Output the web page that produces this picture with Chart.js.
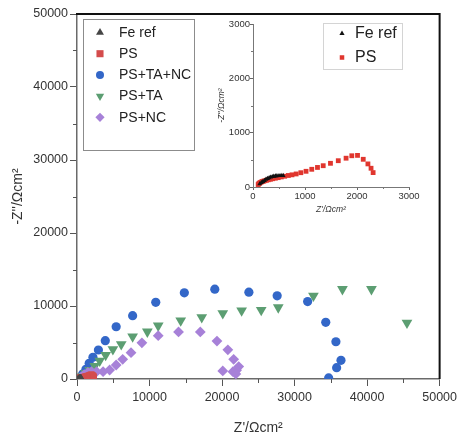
<!DOCTYPE html>
<html>
<head>
<meta charset="utf-8">
<script src="https://cdn.jsdelivr.net/npm/chart.js@4/dist/chart.umd.min.js"></script>
<style>
  html, body { margin: 0; padding: 0; background: #ffffff; }
  #wrap { position: relative; width: 461px; height: 439px; }
  #main { position: absolute; left: 0; top: 0; width: 461px; height: 439px; }
  #inset { position: absolute; left: 200px; top: 14px; width: 245px; height: 216px; }
</style>
</head>
<body>
<div id="wrap">
  <canvas id="main" width="461" height="439"></canvas>
  <canvas id="inset" width="245" height="216"></canvas>
</div>
<script>
// Nyquist plots, impedance in Ω·cm² (Z' real part, -Z'' imaginary part)

// Fe ref
const feRefX = [130, 160, 190, 220, 250, 280, 310, 340, 370, 400, 430, 460, 500, 540, 580];
const feRefY = [60, 80, 100, 120, 140, 155, 170, 180, 190, 195, 200, 205, 208, 210, 210];

// PS
const psX = [100, 110, 125, 140, 160, 180, 205, 230, 260, 295, 335, 380, 430, 485, 545, 610, 680, 750, 830, 920, 1020, 1130, 1240, 1350, 1490, 1640, 1790, 1900, 2010, 2120, 2210, 2270, 2310];
const psY = [45, 60, 72, 82, 92, 100, 108, 116, 124, 133, 142, 152, 162, 172, 185, 198, 212, 224, 240, 263, 289, 326, 360, 392, 436, 484, 530, 575, 582, 510, 425, 345, 265];

// PS+TA+NC
const tanX = [400, 780, 1230, 1680, 2200, 2950, 3900, 5400, 7670, 10860, 14800, 19000, 23700, 27600, 31800, 34300, 35700, 36400, 35800, 34700];
const tanY = [200, 680, 1330, 2150, 2970, 3970, 5250, 7160, 8670, 10500, 11800, 12300, 11900, 11400, 10600, 7770, 5100, 2560, 1550, 150];

// PS+TA
const taX = [400, 800, 1200, 1770, 2450, 3130, 3950, 4950, 6100, 7670, 9700, 11200, 14300, 17200, 20100, 22700, 25400, 27750, 32600, 36600, 40600, 45500];
const taY = [200, 400, 800, 1230, 1780, 2500, 3290, 4070, 4750, 5800, 6480, 7300, 8000, 8450, 9000, 9360, 9450, 9800, 11400, 12300, 12300, 7700];

// PS+NC
const ncX = [600, 1000, 1500, 2000, 2700, 3600, 4500, 5400, 6300, 7450, 8950, 11200, 14000, 17000, 19300, 20800, 21600, 22300, 22000, 21500, 21900, 20100];
const ncY = [300, 600, 900, 1000, 1000, 1000, 1230, 1920, 2700, 3600, 4950, 5930, 6450, 6450, 5200, 4000, 2700, 1700, 1200, 1000, 700, 1100];

// Axis ticks
const mainTicks = [0, 10000, 20000, 30000, 40000, 50000];
const insetTicks = [0, 1000, 2000, 3000];

const FONT = '"Liberation Sans", Arial, Helvetica, sans-serif';
Chart.defaults.font.family = FONT;

function pts(xs, ys) { return xs.map((x, i) => ({ x: x, y: ys[i] })); }

function drawMarker(ctx, style, x, y, r, color, rotation) {
  ctx.save();
  ctx.fillStyle = color;
  ctx.beginPath();
  if (style === 'circle') {
    ctx.arc(x, y, r, 0, Math.PI * 2);
  } else if (style === 'triangle') {
    const s = rotation === 180 ? -1 : 1;
    ctx.moveTo(x, y - s * r);
    ctx.lineTo(x + 0.866 * r, y + s * 0.5 * r);
    ctx.lineTo(x - 0.866 * r, y + s * 0.5 * r);
    ctx.closePath();
  } else if (style === 'rect') {
    const h = Math.SQRT1_2 * r;
    ctx.rect(x - h, y - h, 2 * h, 2 * h);
  } else if (style === 'rectRot') {
    ctx.moveTo(x, y - r); ctx.lineTo(x + r, y); ctx.lineTo(x, y + r); ctx.lineTo(x - r, y);
    ctx.closePath();
  }
  ctx.fill();
  ctx.restore();
}

// Boxed legend drawn inside the plot
const boxLegend = {
  id: 'boxLegend',
  afterDraw(chart, args, o) {
    const ctx = chart.ctx;
    ctx.save();
    ctx.strokeStyle = o.border;
    ctx.lineWidth = 1;
    ctx.strokeRect(o.x + 0.5, o.y + 0.5, o.w, o.h);
    ctx.font = o.font;
    ctx.textBaseline = 'middle';
    ctx.textAlign = 'left';
    o.items.forEach((it, i) => {
      const cy = o.firstY + i * o.gap;
      drawMarker(ctx, it.pointStyle, o.markerX, cy, o.radius[i], it.color, it.rotation);
      ctx.fillStyle = o.textColor;
      ctx.fillText(it.label, o.textX, cy + 0.5);
    });
    ctx.restore();
  }
};

// Minor ticks halfway between the labelled ones
const minorTicks = {
  id: 'minorTicks',
  afterDraw(chart, args, o) {
    const ctx = chart.ctx;
    const xs = chart.scales.x, ys = chart.scales.y;
    ctx.save();
    ctx.strokeStyle = o.color;
    ctx.lineWidth = 1;
    for (let i = 0; i < o.ticks.length - 1; i++) {
      const v = (o.ticks[i] + o.ticks[i + 1]) / 2;
      const px = Math.round(xs.getPixelForValue(v)) + 0.5;
      ctx.beginPath(); ctx.moveTo(px, ys.bottom); ctx.lineTo(px, ys.bottom + o.len); ctx.stroke();
      const py = Math.round(ys.getPixelForValue(v)) + 0.5;
      ctx.beginPath(); ctx.moveTo(xs.left, py); ctx.lineTo(xs.left - o.len, py); ctx.stroke();
    }
    ctx.restore();
  }
};

// Closing frame on top and right
const frame = {
  id: 'frame',
  afterDraw(chart, args, o) {
    if (!o.show) return;
    const { ctx, chartArea: a } = chart;
    ctx.save();
    ctx.strokeStyle = o.color;
    ctx.lineWidth = o.width;
    ctx.beginPath();
    ctx.moveTo(a.left - 1, a.top);
    ctx.lineTo(a.right, a.top);
    ctx.lineTo(a.right, a.bottom);
    ctx.stroke();
    ctx.restore();
  }
};

const mainSeries = [
  { label: 'Fe ref',   xs: feRefX, ys: feRefY, pointStyle: 'triangle', radius: 3.5, rotation: 0,   color: '#454545', order: 0 },
  { label: 'PS',       xs: psX,    ys: psY,    pointStyle: 'rect',     radius: 4.5, rotation: 0,   color: '#d44c4c', order: 1 },
  { label: 'PS+TA+NC', xs: tanX,   ys: tanY,   pointStyle: 'circle',   radius: 4.6, rotation: 0,   color: '#3367c8', order: 4 },
  { label: 'PS+TA',    xs: taX,    ys: taY,    pointStyle: 'triangle', radius: 6.2, rotation: 180, color: '#5c9e72', order: 3 },
  { label: 'PS+NC',    xs: ncX,    ys: ncY,    pointStyle: 'rectRot',  radius: 5.4, rotation: 0,   color: '#a781d8', order: 2 }
];

const insetSeries = [
  { label: 'Fe ref', xs: feRefX, ys: feRefY, pointStyle: 'triangle', radius: 2.8, rotation: 0, color: '#111111', order: 0 },
  { label: 'PS',     xs: psX,    ys: psY,    pointStyle: 'rect',     radius: 3.4, rotation: 0, color: '#e0362e', order: 1 }
];

function toDatasets(series) {
  return series.map(s => ({
    label: s.label,
    data: pts(s.xs, s.ys),
    showLine: false,
    pointStyle: s.pointStyle,
    pointRadius: s.radius,
    pointHoverRadius: s.radius,
    pointRotation: s.rotation,
    pointBackgroundColor: s.color,
    pointBorderColor: s.color,
    pointBorderWidth: 0,
    order: s.order
  }));
}

function fmt(v) { return String(v); }

new Chart(document.getElementById('main'), {
  type: 'scatter',
  data: { datasets: toDatasets(mainSeries) },
  options: {
    responsive: false,
    animation: false,
    events: [],
    layout: { padding: { left: 0, right: 17, top: 14, bottom: 0 } },
    scales: {
      x: {
        type: 'linear', min: 0, max: 50000,
        afterBuildTicks: s => { s.ticks = mainTicks.map(v => ({ value: v })); },
        afterFit: s => { s.height = 60; },
        ticks: { callback: fmt, color: '#333', font: { size: 12.5 }, padding: 4, maxRotation: 0, autoSkip: false },
        grid: { display: true, drawOnChartArea: false, drawTicks: true, tickLength: 7, tickColor: '#555', tickWidth: 1 },
        border: { display: true, color: '#6a6a6a', width: 1.5 },
        title: { display: true, text: "Z'/Ωcm²", color: '#333', font: { size: 14 }, padding: { top: 0, bottom: 2 } }
      },
      y: {
        type: 'linear', min: 0, max: 50000,
        afterBuildTicks: s => { s.ticks = mainTicks.map(v => ({ value: v })); },
        afterFit: s => { s.width = 77; },
        ticks: { callback: fmt, color: '#333', font: { size: 12.5 }, padding: 2, autoSkip: false },
        grid: { display: true, drawOnChartArea: false, drawTicks: true, tickLength: 7, tickColor: '#555', tickWidth: 1 },
        border: { display: true, color: '#6a6a6a', width: 1.5 },
        title: { display: true, text: "-Z''/Ωcm²", color: '#333', font: { size: 14 }, padding: { top: 10, bottom: 0 } }
      }
    },
    plugins: {
      legend: { display: false },
      tooltip: { enabled: false },
      frame: { show: true, color: '#111', width: 2 },
      minorTicks: { ticks: mainTicks, len: 4, color: '#555' },
      boxLegend: {
        items: mainSeries, x: 83, y: 19, w: 111, h: 131,
        border: '#8c8c8c', markerX: 100, textX: 119, firstY: 32.5, gap: 21.2,
        radius: [4.6, 5, 4, 4.8, 4.6],
        font: '14px ' + FONT, textColor: '#222'
      }
    }
  },
  plugins: [frame, minorTicks, boxLegend]
});

new Chart(document.getElementById('inset'), {
  type: 'scatter',
  data: { datasets: toDatasets(insetSeries) },
  options: {
    responsive: false,
    animation: false,
    events: [],
    layout: { padding: { left: 0, right: 36, top: 10, bottom: 0 } },
    scales: {
      x: {
        type: 'linear', min: 0, max: 3000,
        afterBuildTicks: s => { s.ticks = insetTicks.map(v => ({ value: v })); },
        afterFit: s => { s.height = 43; },
        ticks: { callback: fmt, color: '#333', font: { size: 9.5 }, padding: 1, maxRotation: 0, autoSkip: false },
        grid: { display: true, drawOnChartArea: false, drawTicks: true, tickLength: 3, tickColor: '#666', tickWidth: 1 },
        border: { display: true, color: '#777', width: 1 },
        title: { display: true, text: "Z'/Ωcm²", color: '#333', font: { size: 8.5, style: 'italic' }, padding: { top: 0, bottom: 15 } }
      },
      y: {
        type: 'linear', min: 0, max: 3000,
        afterBuildTicks: s => { s.ticks = insetTicks.map(v => ({ value: v })); },
        afterFit: s => { s.width = 53; },
        ticks: { callback: fmt, color: '#333', font: { size: 9.5 }, padding: 0, autoSkip: false },
        grid: { display: true, drawOnChartArea: false, drawTicks: true, tickLength: 3, tickColor: '#666', tickWidth: 1 },
        border: { display: true, color: '#777', width: 1 },
        title: { display: true, text: "-Z''/Ωcm²", color: '#333', font: { size: 8.5, style: 'italic' }, padding: { top: 17, bottom: 0 } }
      }
    },
    plugins: {
      legend: { display: false },
      tooltip: { enabled: false },
      frame: { show: false },
      minorTicks: { ticks: insetTicks, len: 2, color: '#777' },
      boxLegend: {
        items: insetSeries, x: 123, y: 9, w: 79, h: 46,
        border: '#d4d4d4', markerX: 142, textX: 155, firstY: 19.5, gap: 24,
        radius: [3, 3.2],
        font: '16px ' + FONT, textColor: '#222'
      }
    }
  },
  plugins: [frame, minorTicks, boxLegend]
});
</script>
</body>
</html>
